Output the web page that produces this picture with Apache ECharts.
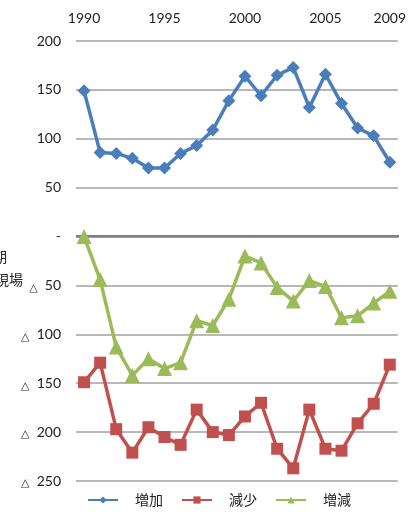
<!DOCTYPE html>
<html><head><meta charset="utf-8">
<script src="https://cdn.jsdelivr.net/npm/echarts@6/dist/echarts.min.js"></script>
<style>html,body{margin:0;padding:0;background:#fff}#c{width:409px;height:518px}</style>
</head><body><div id="c"></div>
<script>
var years = ['1990','1991','1992','1993','1994','1995','1996','1997','1998','1999','2000','2001','2002','2003','2004','2005','2006','2007','2008','2009'];
var shownYears = ['1990','1995','2000','2005','2009'];
var increase = [149, 86, 85, 80, 70, 70, 85, 93, 109, 139, 164, 144, 165, 173, 132, 166, 136, 111, 103, 76];
var decrease = [-149, -129, -197, -221, -195, -205, -213, -177, -200, -203, -184, -170, -217, -237, -177, -217, -219, -191, -171, -131];
var net = [0, -44, -113, -142, -125, -135, -129, -86, -91, -64, -20, -27, -52, -66, -45, -51, -83, -81, -68, -56];
var seriesNames = ['増加', '減少', '増減'];
var sideText = ['期', '現場'];

var font = 'Lato, "Noto Sans", sans-serif';
var chart = echarts.init(document.getElementById('c'), null, {renderer: 'canvas'});
chart.setOption({
  animation: false,
  backgroundColor: '#fff',
  grid: {left: 76, right: 10, top: 41, bottom: 37},
  xAxis: {
    type: 'category', data: years, position: 'top', boundaryGap: true,
    axisLine: {show: false}, axisTick: {show: false}, splitLine: {show: false},
    axisLabel: {
      interval: function (i, v) { return shownYears.indexOf(v) >= 0; },
      color: '#222', fontSize: 14, fontFamily: font, margin: 16
    }
  },
  yAxis: {
    type: 'value', min: -250, max: 200, interval: 50,
    axisLine: {show: false}, axisTick: {show: false},
    splitLine: {lineStyle: {color: '#a0a0a0', width: 1.5}},
    axisLabel: {
      margin: 15, color: '#222', fontSize: 14, fontFamily: font,
      formatter: function (v) {
        if (v === 0) return '-';
        if (v < 0) return '{t|△}  ' + (-v);
        return String(v);
      },
      rich: {t: {fontSize: 11, color: '#222', fontFamily: 'DejaVu Sans', verticalAlign: 'bottom', padding: [5, 0, 0, 0]}}
    }
  },
  legend: {
    bottom: 6, left: 82, itemWidth: 30, itemHeight: 9, itemGap: 18,
    textStyle: {fontSize: 14, color: '#222', fontFamily: '"Noto Sans CJK JP", sans-serif', padding: [0, 0, 0, 12]},
    data: seriesNames
  },
  graphic: [
    {type: 'text', left: -7, top: 250, style: {text: sideText[0], fill: '#222', font: '14px "Noto Sans CJK JP"'}},
    {type: 'text', left: -5, top: 273, style: {text: sideText[1], fill: '#222', font: '14px "Noto Sans CJK JP"'}},
    {type: 'line', shape: {x1: 76, y1: 236.2, x2: 399, y2: 236.2}, style: {stroke: '#808080', lineWidth: 2.5}, z: 1}
  ],
  series: [
    {name: seriesNames[0], type: 'line', data: increase, symbol: 'diamond', symbolSize: 13, showAllSymbol: true,
     lineStyle: {color: '#4a7ebb', width: 3.5}, itemStyle: {color: '#4a7ebb'}, z: 3},
    {name: seriesNames[1], type: 'line', data: decrease, symbol: 'rect', symbolSize: 12, showAllSymbol: true,
     lineStyle: {color: '#c0504d', width: 3.5}, itemStyle: {color: '#c0504d'}, z: 3},
    {name: seriesNames[2], type: 'line', data: net, symbol: 'triangle', symbolSize: 15, showAllSymbol: true,
     lineStyle: {color: '#9bbb59', width: 3.5}, itemStyle: {color: '#9bbb59'}, z: 3}
  ]
});
</script></body></html>
